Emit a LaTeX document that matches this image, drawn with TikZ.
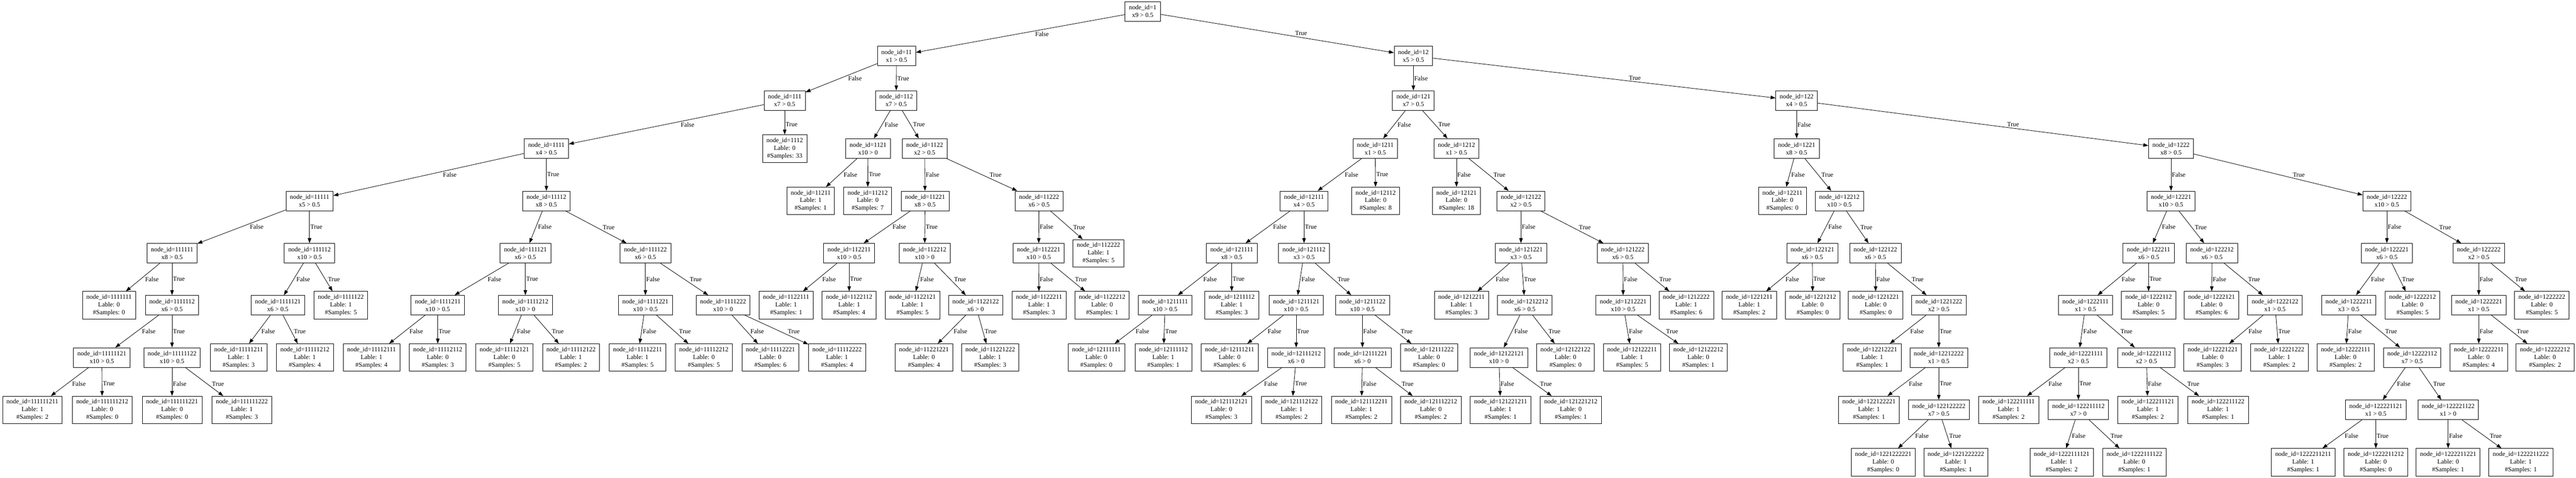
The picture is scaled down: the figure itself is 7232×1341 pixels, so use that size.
\documentclass[tikz,border=0pt]{standalone}
\usepackage{fontspec}
\setmainfont{Liberation Serif}
\usepackage{tikz}
\usetikzlibrary{arrows.meta,calc}

\tikzset{
  splitbox/.style={draw, line width=0.6pt, align=center, inner xsep=5.5pt, inner ysep=0pt, minimum height=27.5pt, font=\fontsize{9}{10.8}\selectfont},
  leafbox/.style={splitbox, minimum height=38.5pt},
  branch/.style={-{Triangle[length=7pt,width=5pt]}, line width=0.6pt},
  lbl/.style={inner sep=1pt, font=\fontsize{9}{10.8}\selectfont}
}
\newcommand{\lbranch}[3]{\draw[branch] (#1) -- (#2); \node[lbl, anchor=north west] (l#2) at ($(#1)!0.44!(#2)$) {#3};}
\newcommand{\rbranch}[3]{\draw[branch] (#1) -- (#2); \node[lbl, anchor=south west] (l#2) at ($(#1)!0.56!(#2)$) {#3};}

\begin{document}
\begin{tikzpicture}[x=0.5pt, y=-0.5pt]
    \useasboundingbox (0,0) rectangle (7232,1341);

    \node[splitbox] (n1) at (3208,32) {node\_id=1\\x9 > 0.5};

    \node[splitbox] (n11) at (2517,157) {node\_id=11\\x1 > 0.5};
    \node[splitbox] (n12) at (3968,157) {node\_id=12\\x5 > 0.5};

    \node[splitbox] (n111) at (2203,282) {node\_id=111\\x7 > 0.5};
    \node[splitbox] (n112) at (2516,282) {node\_id=112\\x7 > 0.5};
    \node[splitbox] (n121) at (3968,282) {node\_id=121\\x7 > 0.5};
    \node[splitbox] (n122) at (5044,282) {node\_id=122\\x4 > 0.5};

    \node[splitbox] (n1111) at (1534,417) {node\_id=1111\\x4 > 0.5};
    \node[leafbox] (n1112) at (2203,417) {node\_id=1112\\Lable: 0\\\#Samples: 33};
    \node[splitbox] (n1121) at (2437,417) {node\_id=1121\\x10 > 0};
    \node[splitbox] (n1122) at (2596,417) {node\_id=1122\\x2 > 0.5};
    \node[splitbox] (n1211) at (3861,417) {node\_id=1211\\x1 > 0.5};
    \node[splitbox] (n1212) at (4089,417) {node\_id=1212\\x1 > 0.5};
    \node[splitbox] (n1221) at (5044,417) {node\_id=1221\\x8 > 0.5};
    \node[splitbox] (n1222) at (6095,417) {node\_id=1222\\x8 > 0.5};

    \node[splitbox] (n11111) at (869,564) {node\_id=11111\\x5 > 0.5};
    \node[splitbox] (n11112) at (1534,564) {node\_id=11112\\x8 > 0.5};
    \node[leafbox] (n11211) at (2276,564) {node\_id=11211\\Lable: 1\\\#Samples: 1};
    \node[leafbox] (n11212) at (2436,564) {node\_id=11212\\Lable: 0\\\#Samples: 7};
    \node[splitbox] (n11221) at (2597,564) {node\_id=11221\\x8 > 0.5};
    \node[splitbox] (n11222) at (2917,564) {node\_id=11222\\x6 > 0.5};
    \node[splitbox] (n12111) at (3661,564) {node\_id=12111\\x4 > 0.5};
    \node[leafbox] (n12112) at (3862,564) {node\_id=12112\\Lable: 0\\\#Samples: 8};
    \node[leafbox] (n12121) at (4089,564) {node\_id=12121\\Lable: 0\\\#Samples: 18};
    \node[splitbox] (n12122) at (4270,564) {node\_id=12122\\x2 > 0.5};
    \node[leafbox] (n12211) at (5004,564) {node\_id=12211\\Lable: 0\\\#Samples: 0};
    \node[splitbox] (n12212) at (5164,564) {node\_id=12212\\x10 > 0.5};
    \node[splitbox] (n12221) at (6095,564) {node\_id=12221\\x10 > 0.5};
    \node[splitbox] (n12222) at (6701,564) {node\_id=12222\\x10 > 0.5};

    \node[splitbox] (n111111) at (483,711) {node\_id=111111\\x8 > 0.5};
    \node[splitbox] (n111112) at (869,711) {node\_id=111112\\x10 > 0.5};
    \node[splitbox] (n111121) at (1475,711) {node\_id=111121\\x6 > 0.5};
    \node[splitbox] (n111122) at (1812,711) {node\_id=111122\\x6 > 0.5};
    \node[splitbox] (n112211) at (2384,711) {node\_id=112211\\x10 > 0.5};
    \node[splitbox] (n112212) at (2596,711) {node\_id=112212\\x10 > 0};
    \node[splitbox] (n112221) at (2916,711) {node\_id=112221\\x10 > 0.5};
    \node[leafbox] (n112222) at (3084,711) {node\_id=112222\\Lable: 1\\\#Samples: 5};
    \node[splitbox] (n121111) at (3458,711) {node\_id=121111\\x8 > 0.5};
    \node[splitbox] (n121112) at (3661,711) {node\_id=121112\\x3 > 0.5};
    \node[splitbox] (n121221) at (4270,711) {node\_id=121221\\x3 > 0.5};
    \node[splitbox] (n121222) at (4556,711) {node\_id=121222\\x6 > 0.5};
    \node[splitbox] (n122121) at (5088,711) {node\_id=122121\\x6 > 0.5};
    \node[splitbox] (n122122) at (5265,711) {node\_id=122122\\x6 > 0.5};
    \node[splitbox] (n122211) at (6032,711) {node\_id=122211\\x6 > 0.5};
    \node[splitbox] (n122212) at (6210,711) {node\_id=122212\\x6 > 0.5};
    \node[splitbox] (n122221) at (6701,711) {node\_id=122221\\x6 > 0.5};
    \node[splitbox] (n122222) at (6959,711) {node\_id=122222\\x2 > 0.5};

    \node[leafbox] (n1111111) at (306,857) {node\_id=1111111\\Lable: 0\\\#Samples: 0};
    \node[splitbox] (n1111112) at (483,857) {node\_id=1111112\\x6 > 0.5};
    \node[splitbox] (n1111121) at (780,857) {node\_id=1111121\\x6 > 0.5};
    \node[leafbox] (n1111122) at (957,857) {node\_id=1111122\\Lable: 1\\\#Samples: 5};
    \node[splitbox] (n1111211) at (1229,857) {node\_id=1111211\\x10 > 0.5};
    \node[splitbox] (n1111212) at (1475,857) {node\_id=1111212\\x10 > 0};
    \node[splitbox] (n1111221) at (1812,857) {node\_id=1111221\\x10 > 0.5};
    \node[splitbox] (n1111222) at (2030,857) {node\_id=1111222\\x10 > 0};
    \node[leafbox] (n1122111) at (2207,857) {node\_id=1122111\\Lable: 1\\\#Samples: 1};
    \node[leafbox] (n1122112) at (2384,857) {node\_id=1122112\\Lable: 1\\\#Samples: 4};
    \node[leafbox] (n1122121) at (2562,857) {node\_id=1122121\\Lable: 1\\\#Samples: 5};
    \node[splitbox] (n1122122) at (2739,857) {node\_id=1122122\\x6 > 0};
    \node[leafbox] (n1122211) at (2917,857) {node\_id=1122211\\Lable: 1\\\#Samples: 3};
    \node[leafbox] (n1122212) at (3094,857) {node\_id=1122212\\Lable: 0\\\#Samples: 1};
    \node[splitbox] (n1211111) at (3271,857) {node\_id=1211111\\x10 > 0.5};
    \node[leafbox] (n1211112) at (3458,857) {node\_id=1211112\\Lable: 1\\\#Samples: 3};
    \node[splitbox] (n1211121) at (3639,857) {node\_id=1211121\\x10 > 0.5};
    \node[splitbox] (n1211122) at (3825,857) {node\_id=1211122\\x10 > 0.5};
    \node[leafbox] (n1212211) at (4103,857) {node\_id=1212211\\Lable: 1\\\#Samples: 3};
    \node[splitbox] (n1212212) at (4281,857) {node\_id=1212212\\x6 > 0.5};
    \node[splitbox] (n1212221) at (4557,857) {node\_id=1212221\\x10 > 0.5};
    \node[leafbox] (n1212222) at (4734,857) {node\_id=1212222\\Lable: 1\\\#Samples: 6};
    \node[leafbox] (n1221211) at (4911,857) {node\_id=1221211\\Lable: 1\\\#Samples: 2};
    \node[leafbox] (n1221212) at (5089,857) {node\_id=1221212\\Lable: 0\\\#Samples: 0};
    \node[leafbox] (n1221221) at (5266,857) {node\_id=1221221\\Lable: 0\\\#Samples: 0};
    \node[splitbox] (n1221222) at (5443,857) {node\_id=1221222\\x2 > 0.5};
    \node[splitbox] (n1222111) at (5855,857) {node\_id=1222111\\x1 > 0.5};
    \node[leafbox] (n1222112) at (6032,857) {node\_id=1222112\\Lable: 0\\\#Samples: 5};
    \node[leafbox] (n1222121) at (6209,857) {node\_id=1222121\\Lable: 0\\\#Samples: 6};
    \node[splitbox] (n1222122) at (6387,857) {node\_id=1222122\\x1 > 0.5};
    \node[splitbox] (n1222211) at (6594,857) {node\_id=1222211\\x3 > 0.5};
    \node[leafbox] (n1222212) at (6773,857) {node\_id=1222212\\Lable: 0\\\#Samples: 5};
    \node[splitbox] (n1222221) at (6959,857) {node\_id=1222221\\x1 > 0.5};
    \node[leafbox] (n1222222) at (7136,857) {node\_id=1222222\\Lable: 0\\\#Samples: 5};

    \node[splitbox] (n11111121) at (286,1004) {node\_id=11111121\\x10 > 0.5};
    \node[splitbox] (n11111122) at (483,1004) {node\_id=11111122\\x10 > 0.5};
    \node[leafbox] (n11111211) at (670,1004) {node\_id=11111211\\Lable: 1\\\#Samples: 3};
    \node[leafbox] (n11111212) at (856,1004) {node\_id=11111212\\Lable: 1\\\#Samples: 4};
    \node[leafbox] (n11112111) at (1043,1004) {node\_id=11112111\\Lable: 1\\\#Samples: 4};
    \node[leafbox] (n11112112) at (1229,1004) {node\_id=11112112\\Lable: 0\\\#Samples: 3};
    \node[leafbox] (n11112121) at (1416,1004) {node\_id=11112121\\Lable: 0\\\#Samples: 5};
    \node[leafbox] (n11112122) at (1603,1004) {node\_id=11112122\\Lable: 1\\\#Samples: 2};
    \node[leafbox] (n11112211) at (1790,1004) {node\_id=11112211\\Lable: 1\\\#Samples: 5};
    \node[leafbox] (n11112212) at (1976,1004) {node\_id=11112212\\Lable: 0\\\#Samples: 5};
    \node[leafbox] (n11112221) at (2163,1004) {node\_id=11112221\\Lable: 0\\\#Samples: 6};
    \node[leafbox] (n11112222) at (2350,1004) {node\_id=11112222\\Lable: 1\\\#Samples: 4};
    \node[leafbox] (n11221221) at (2594,1004) {node\_id=11221221\\Lable: 0\\\#Samples: 4};
    \node[leafbox] (n11221222) at (2780,1004) {node\_id=11221222\\Lable: 1\\\#Samples: 3};
    \node[leafbox] (n12111111) at (3078,1004) {node\_id=12111111\\Lable: 0\\\#Samples: 0};
    \node[leafbox] (n12111112) at (3266,1004) {node\_id=12111112\\Lable: 1\\\#Samples: 1};
    \node[leafbox] (n12111211) at (3452,1004) {node\_id=12111211\\Lable: 0\\\#Samples: 6};
    \node[splitbox] (n12111212) at (3639,1004) {node\_id=12111212\\x6 > 0};
    \node[splitbox] (n12111221) at (3825,1004) {node\_id=12111221\\x6 > 0};
    \node[leafbox] (n12111222) at (4012,1004) {node\_id=12111222\\Lable: 0\\\#Samples: 0};
    \node[splitbox] (n12122121) at (4208,1004) {node\_id=12122121\\x10 > 0};
    \node[leafbox] (n12122122) at (4395,1004) {node\_id=12122122\\Lable: 0\\\#Samples: 0};
    \node[leafbox] (n12122211) at (4582,1004) {node\_id=12122211\\Lable: 1\\\#Samples: 5};
    \node[leafbox] (n12122212) at (4768,1004) {node\_id=12122212\\Lable: 0\\\#Samples: 1};
    \node[leafbox] (n12212221) at (5256,1004) {node\_id=12212221\\Lable: 1\\\#Samples: 1};
    \node[splitbox] (n12212222) at (5443,1004) {node\_id=12212222\\x1 > 0.5};
    \node[splitbox] (n12221111) at (5835,1004) {node\_id=12221111\\x2 > 0.5};
    \node[splitbox] (n12221112) at (6026,1004) {node\_id=12221112\\x2 > 0.5};
    \node[leafbox] (n12221221) at (6212,1004) {node\_id=12221221\\Lable: 0\\\#Samples: 3};
    \node[leafbox] (n12221222) at (6399,1004) {node\_id=12221222\\Lable: 1\\\#Samples: 2};
    \node[leafbox] (n12222111) at (6585,1004) {node\_id=12222111\\Lable: 0\\\#Samples: 2};
    \node[splitbox] (n12222112) at (6772,1004) {node\_id=12222112\\x7 > 0.5};
    \node[leafbox] (n12222211) at (6959,1004) {node\_id=12222211\\Lable: 0\\\#Samples: 4};
    \node[leafbox] (n12222212) at (7145,1004) {node\_id=12222212\\Lable: 0\\\#Samples: 2};

    \node[leafbox] (n111111211) at (91,1151) {node\_id=111111211\\Lable: 1\\\#Samples: 2};
    \node[leafbox] (n111111212) at (287,1151) {node\_id=111111212\\Lable: 0\\\#Samples: 0};
    \node[leafbox] (n111111221) at (483,1151) {node\_id=111111221\\Lable: 0\\\#Samples: 0};
    \node[leafbox] (n111111222) at (679,1151) {node\_id=111111222\\Lable: 1\\\#Samples: 3};
    \node[leafbox] (n121112121) at (3429,1151) {node\_id=121112121\\Lable: 0\\\#Samples: 3};
    \node[leafbox] (n121112122) at (3626,1151) {node\_id=121112122\\Lable: 1\\\#Samples: 2};
    \node[leafbox] (n121112211) at (3822,1151) {node\_id=121112211\\Lable: 1\\\#Samples: 2};
    \node[leafbox] (n121112212) at (4017,1151) {node\_id=121112212\\Lable: 0\\\#Samples: 2};
    \node[leafbox] (n121221211) at (4213,1151) {node\_id=121221211\\Lable: 1\\\#Samples: 1};
    \node[leafbox] (n121221212) at (4410,1151) {node\_id=121221212\\Lable: 0\\\#Samples: 1};
    \node[leafbox] (n122122221) at (5247,1151) {node\_id=122122221\\Lable: 1\\\#Samples: 1};
    \node[splitbox] (n122122222) at (5443,1151) {node\_id=122122222\\x7 > 0.5};
    \node[leafbox] (n122211111) at (5639,1151) {node\_id=122211111\\Lable: 1\\\#Samples: 2};
    \node[splitbox] (n122211112) at (5835,1151) {node\_id=122211112\\x7 > 0};
    \node[leafbox] (n122211121) at (6030,1151) {node\_id=122211121\\Lable: 1\\\#Samples: 2};
    \node[leafbox] (n122211122) at (6227,1151) {node\_id=122211122\\Lable: 1\\\#Samples: 1};
    \node[splitbox] (n122221121) at (6670,1151) {node\_id=122221121\\x1 > 0.5};
    \node[splitbox] (n122221122) at (6873,1151) {node\_id=122221122\\x1 > 0};

    \node[leafbox] (n1221222221) at (5287,1298) {node\_id=1221222221\\Lable: 0\\\#Samples: 0};
    \node[leafbox] (n1221222222) at (5491,1298) {node\_id=1221222222\\Lable: 1\\\#Samples: 1};
    \node[leafbox] (n1222111121) at (5788,1298) {node\_id=1222111121\\Lable: 1\\\#Samples: 2};
    \node[leafbox] (n1222111122) at (5992,1298) {node\_id=1222111122\\Lable: 0\\\#Samples: 1};
    \node[leafbox] (n1222211211) at (6466,1298) {node\_id=1222211211\\Lable: 1\\\#Samples: 1};
    \node[leafbox] (n1222211212) at (6670,1298) {node\_id=1222211212\\Lable: 0\\\#Samples: 0};
    \node[leafbox] (n1222211221) at (6873,1298) {node\_id=1222211221\\Lable: 0\\\#Samples: 1};
    \node[leafbox] (n1222211222) at (7077,1298) {node\_id=1222211222\\Lable: 1\\\#Samples: 1};

    \lbranch{n1}{n11}{False}
    \rbranch{n1}{n12}{True}

    \lbranch{n11}{n111}{False}
    \lbranch{n11}{n112}{True}
    \lbranch{n12}{n121}{False}
    \rbranch{n12}{n122}{True}

    \lbranch{n111}{n1111}{False}
    \lbranch{n111}{n1112}{True}
    \lbranch{n112}{n1121}{False}
    \rbranch{n112}{n1122}{True}
    \lbranch{n121}{n1211}{False}
    \rbranch{n121}{n1212}{True}
    \lbranch{n122}{n1221}{False}
    \rbranch{n122}{n1222}{True}

    \lbranch{n1111}{n11111}{False}
    \lbranch{n1111}{n11112}{True}
    \lbranch{n1121}{n11211}{False}
    \lbranch{n1121}{n11212}{True}
    \lbranch{n1122}{n11221}{False}
    \rbranch{n1122}{n11222}{True}
    \lbranch{n1211}{n12111}{False}
    \lbranch{n1211}{n12112}{True}
    \lbranch{n1212}{n12121}{False}
    \rbranch{n1212}{n12122}{True}
    \lbranch{n1221}{n12211}{False}
    \rbranch{n1221}{n12212}{True}
    \lbranch{n1222}{n12221}{False}
    \rbranch{n1222}{n12222}{True}

    \lbranch{n11111}{n111111}{False}
    \lbranch{n11111}{n111112}{True}
    \lbranch{n11112}{n111121}{False}
    \rbranch{n11112}{n111122}{True}
    \lbranch{n11221}{n112211}{False}
    \lbranch{n11221}{n112212}{True}
    \lbranch{n11222}{n112221}{False}
    \rbranch{n11222}{n112222}{True}
    \lbranch{n12111}{n121111}{False}
    \lbranch{n12111}{n121112}{True}
    \lbranch{n12122}{n121221}{False}
    \rbranch{n12122}{n121222}{True}
    \lbranch{n12212}{n122121}{False}
    \rbranch{n12212}{n122122}{True}
    \lbranch{n12221}{n122211}{False}
    \rbranch{n12221}{n122212}{True}
    \lbranch{n12222}{n122221}{False}
    \rbranch{n12222}{n122222}{True}

    \lbranch{n111111}{n1111111}{False}
    \lbranch{n111111}{n1111112}{True}
    \lbranch{n111112}{n1111121}{False}
    \rbranch{n111112}{n1111122}{True}
    \lbranch{n111121}{n1111211}{False}
    \lbranch{n111121}{n1111212}{True}
    \lbranch{n111122}{n1111221}{False}
    \rbranch{n111122}{n1111222}{True}
    \lbranch{n112211}{n1122111}{False}
    \lbranch{n112211}{n1122112}{True}
    \lbranch{n112212}{n1122121}{False}
    \rbranch{n112212}{n1122122}{True}
    \lbranch{n112221}{n1122211}{False}
    \rbranch{n112221}{n1122212}{True}
    \lbranch{n121111}{n1211111}{False}
    \lbranch{n121111}{n1211112}{True}
    \lbranch{n121112}{n1211121}{False}
    \rbranch{n121112}{n1211122}{True}
    \lbranch{n121221}{n1212211}{False}
    \rbranch{n121221}{n1212212}{True}
    \lbranch{n121222}{n1212221}{False}
    \rbranch{n121222}{n1212222}{True}
    \lbranch{n122121}{n1221211}{False}
    \lbranch{n122121}{n1221212}{True}
    \lbranch{n122122}{n1221221}{False}
    \rbranch{n122122}{n1221222}{True}
    \lbranch{n122211}{n1222111}{False}
    \lbranch{n122211}{n1222112}{True}
    \lbranch{n122212}{n1222121}{False}
    \rbranch{n122212}{n1222122}{True}
    \lbranch{n122221}{n1222211}{False}
    \rbranch{n122221}{n1222212}{True}
    \lbranch{n122222}{n1222221}{False}
    \rbranch{n122222}{n1222222}{True}

    \lbranch{n1111112}{n11111121}{False}
    \lbranch{n1111112}{n11111122}{True}
    \lbranch{n1111121}{n11111211}{False}
    \rbranch{n1111121}{n11111212}{True}
    \lbranch{n1111211}{n11112111}{False}
    \lbranch{n1111211}{n11112112}{True}
    \lbranch{n1111212}{n11112121}{False}
    \rbranch{n1111212}{n11112122}{True}
    \lbranch{n1111221}{n11112211}{False}
    \rbranch{n1111221}{n11112212}{True}
    \rbranch{n1111222}{n11112221}{False}
    \rbranch{n1111222}{n11112222}{True}
    \lbranch{n1122122}{n11221221}{False}
    \rbranch{n1122122}{n11221222}{True}
    \lbranch{n1211111}{n12111111}{False}
    \lbranch{n1211111}{n12111112}{True}
    \lbranch{n1211121}{n12111211}{False}
    \lbranch{n1211121}{n12111212}{True}
    \lbranch{n1211122}{n12111221}{False}
    \rbranch{n1211122}{n12111222}{True}
    \lbranch{n1212212}{n12122121}{False}
    \rbranch{n1212212}{n12122122}{True}
    \rbranch{n1212221}{n12122211}{False}
    \rbranch{n1212221}{n12122212}{True}
    \lbranch{n1221222}{n12212221}{False}
    \lbranch{n1221222}{n12212222}{True}
    \lbranch{n1222111}{n12221111}{False}
    \rbranch{n1222111}{n12221112}{True}
    \lbranch{n1222122}{n12221221}{False}
    \rbranch{n1222122}{n12221222}{True}
    \lbranch{n1222211}{n12222111}{False}
    \rbranch{n1222211}{n12222112}{True}
    \lbranch{n1222221}{n12222211}{False}
    \rbranch{n1222221}{n12222212}{True}

    \lbranch{n11111121}{n111111211}{False}
    \lbranch{n11111121}{n111111212}{True}
    \lbranch{n11111122}{n111111221}{False}
    \rbranch{n11111122}{n111111222}{True}
    \lbranch{n12111212}{n121112121}{False}
    \lbranch{n12111212}{n121112122}{True}
    \lbranch{n12111221}{n121112211}{False}
    \rbranch{n12111221}{n121112212}{True}
    \lbranch{n12122121}{n121221211}{False}
    \rbranch{n12122121}{n121221212}{True}
    \lbranch{n12212222}{n122122221}{False}
    \lbranch{n12212222}{n122122222}{True}
    \lbranch{n12221111}{n122211111}{False}
    \lbranch{n12221111}{n122211112}{True}
    \lbranch{n12221112}{n122211121}{False}
    \rbranch{n12221112}{n122211122}{True}
    \lbranch{n12222112}{n122221121}{False}
    \rbranch{n12222112}{n122221122}{True}

    \lbranch{n122122222}{n1221222221}{False}
    \rbranch{n122122222}{n1221222222}{True}
    \lbranch{n122211112}{n1222111121}{False}
    \rbranch{n122211112}{n1222111122}{True}
    \lbranch{n122221121}{n1222211211}{False}
    \lbranch{n122221121}{n1222211212}{True}
    \lbranch{n122221122}{n1222211221}{False}
    \rbranch{n122221122}{n1222211222}{True}
\end{tikzpicture}
\end{document}
